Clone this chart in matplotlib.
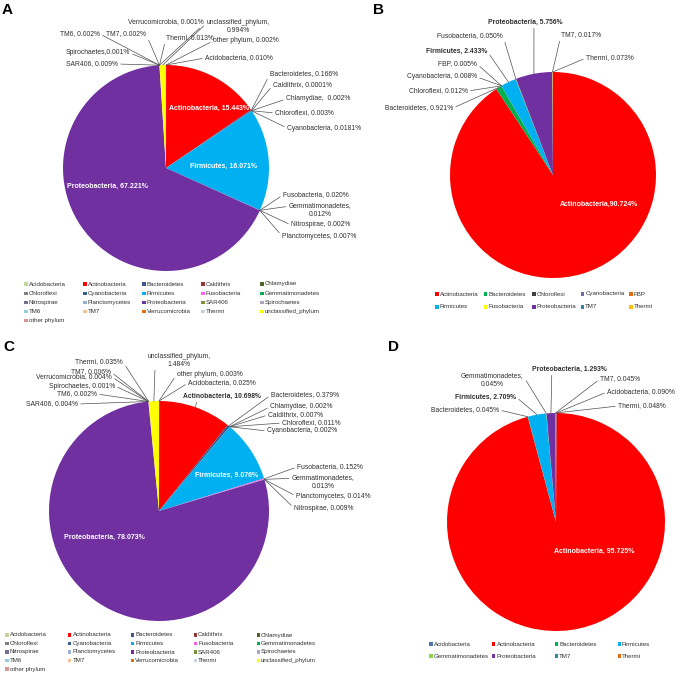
import numpy as np
import matplotlib
matplotlib.use("Agg")
import matplotlib.pyplot as plt
from matplotlib.patches import Rectangle

plt.rcParams['font.family'] = ['Liberation Sans', 'DejaVu Sans']

W, H = 681, 674
TXT = '#303030'

# --- data: panels A and C share the same phylum list ---
phyla_ac = ['Acidobacteria', 'Actinobacteria', 'Bacteroidetes', 'Caldithrix', 'Chlamydiae',
            'Chloroflexi', 'Cyanobacteria', 'Firmicutes', 'Fusobacteria', 'Gemmatimonadetes',
            'Nitrospirae', 'Planctomycetes', 'Proteobacteria', 'SAR406', 'Spirochaetes',
            'TM6', 'TM7', 'Verrucomicrobia', 'Thermi', 'unclassified_phylum', 'other phylum']
colors_ac = ['#c4d79b', '#ff0000', '#3d5a8a', '#953735', '#4f6228',
             '#7f7f7f', '#366092', '#00b0f0', '#ff5ef0', '#00b050',
             '#796b8f', '#95b3d7', '#7030a0', '#77933c', '#b3a2c7',
             '#93cddd', '#fac090', '#e46c0a', '#c5cfe0', '#ffff00', '#d99694']
values_a = [0.010, 15.443, 0.166, 0.0001, 0.002, 0.003, 0.0181, 16.071, 0.020, 0.012,
            0.002, 0.007, 67.221, 0.009, 0.001, 0.002, 0.002, 0.001, 0.013, 0.994, 0.002]
values_c = [0.025, 10.698, 0.379, 0.007, 0.002, 0.011, 0.002, 9.076, 0.152, 0.013,
            0.009, 0.014, 78.073, 0.004, 0.001, 0.002, 0.006, 0.004, 0.035, 1.484, 0.003]

phyla_b = ['Actinobacteria', 'Bacteroidetes', 'Chloroflexi', 'Cyanobacteria', 'FBP',
           'Firmicutes', 'Fusobacteria', 'Proteobacteria', 'TM7', 'Thermi']
colors_b = ['#ff0000', '#00b050', '#404040', '#8064a2', '#e46c0a',
            '#00b0f0', '#ffff00', '#7030a0', '#31859c', '#ffc000']
values_b = [90.724, 0.921, 0.012, 0.008, 0.005, 2.433, 0.050, 5.756, 0.017, 0.073]

phyla_d = ['Acidobacteria', 'Actinobacteria', 'Bacteroidetes', 'Firmicutes',
           'Gemmatimonadetes', 'Proteobacteria', 'TM7', 'Thermi']
colors_d = ['#4f6fa8', '#ff0000', '#00b050', '#00b0f0', '#92d050', '#7030a0', '#31859c', '#e46c0a']
values_d = [0.090, 95.725, 0.045, 2.709, 0.045, 1.293, 0.045, 0.048]


def lab(x, y, ha='left', rel=None, style='plain', sep=', '):
    if rel is None:
        rel = {'left': (0, 0.5), 'right': (1, 0.5), 'center': (0.5, 0)}[ha]
    return (x, y, ha, rel, style, sep)


# --- label layout (pixel positions, y from top) ---
layout_a = {
    'Acidobacteria': lab(205, 58),
    'Actinobacteria': lab(209, 108, 'center', style='inside'),
    'Bacteroidetes': lab(270, 74),
    'Caldithrix': lab(273, 85),
    'Chlamydiae': lab(286, 99, sep=',  '),
    'Chloroflexi': lab(275, 113),
    'Cyanobacteria': lab(287, 128),
    'Firmicutes': lab(223, 166, 'center', style='inside'),
    'Fusobacteria': lab(283, 195),
    'Gemmatimonadetes': lab(320, 210, 'center', rel=(0, 0.75), sep=',\n'),
    'Nitrospirae': lab(291, 225),
    'Planctomycetes': lab(282, 236),
    'Proteobacteria': lab(107, 186, 'center', style='inside'),
    'SAR406': lab(118, 64, 'right'),
    'Spirochaetes': lab(130, 53, 'right', sep=','),
    'TM6': lab(100, 34, 'right'),
    'TM7': lab(146, 34, 'right'),
    'Verrucomicrobia': lab(204, 22, 'right', rel=(1, 0.2)),
    'Thermi': lab(166, 38),
    'unclassified_phylum': lab(238, 27, 'center', rel=(0, 0.75), sep=',\n'),
    'other phylum': lab(213, 41),
}
layout_b = {
    'Actinobacteria': lab(599, 204, 'center', style='inside', sep=','),
    'Bacteroidetes': lab(453, 108, 'right'),
    'Chloroflexi': lab(468, 91, 'right'),
    'Cyanobacteria': lab(477, 77, 'right'),
    'FBP': lab(477, 64, 'right'),
    'Firmicutes': lab(487, 51, 'right', style='bold'),
    'Fusobacteria': lab(503, 36, 'right'),
    'Proteobacteria': lab(525, 22, 'center', rel=(0.62, 0), style='bold'),
    'TM7': lab(561, 35),
    'Thermi': lab(586, 58),
}
layout_c = {
    'Acidobacteria': lab(188, 383),
    'Actinobacteria': lab(222, 396, 'center', rel=(0.18, 0), style='bold'),
    'Bacteroidetes': lab(271, 395),
    'Caldithrix': lab(268, 415),
    'Chlamydiae': lab(270, 407),
    'Chloroflexi': lab(282, 423),
    'Cyanobacteria': lab(267, 431),
    'Firmicutes': lab(227, 475, 'center', style='inside'),
    'Fusobacteria': lab(297, 467),
    'Gemmatimonadetes': lab(323, 482, 'center', rel=(0, 0.75), sep=',\n'),
    'Nitrospirae': lab(294, 508),
    'Planctomycetes': lab(296, 496),
    'Proteobacteria': lab(104, 537, 'center', style='inside'),
    'SAR406': lab(78, 404, 'right'),
    'Spirochaetes': lab(115, 386, 'right'),
    'TM6': lab(97, 394, 'right'),
    'TM7': lab(111, 372, 'right'),
    'Verrucomicrobia': lab(112, 377, 'right'),
    'Thermi': lab(123, 362, 'right'),
    'unclassified_phylum': lab(179, 360, 'center', rel=(0.12, 0), sep=',\n'),
    'other phylum': lab(177, 374),
}
layout_d = {
    'Acidobacteria': lab(607, 392),
    'Actinobacteria': lab(594, 551, 'center', style='inside'),
    'Bacteroidetes': lab(499, 410, 'right'),
    'Firmicutes': lab(516, 397, 'right', style='bold'),
    'Gemmatimonadetes': lab(492, 380, 'center', rel=(1, 0.75), sep=',\n'),
    'Proteobacteria': lab(569, 369, 'center', rel=(0.27, 0), style='bold'),
    'TM7': lab(600, 379),
    'Thermi': lab(618, 406),
}


def fmt(v):
    s = f"{v:.3f}"
    if float(s) != v:
        s = f"{v:.4f}"
    return s


def draw_panel(ax, names, values, colors, center, radius, layout):
    cx, cy = center[0], H - center[1]
    wedges, _ = ax.pie(values, colors=colors, startangle=90, counterclock=False,
                       center=(cx, cy), radius=radius, wedgeprops=dict(linewidth=0))
    for w, name, v in zip(wedges, names, values):
        x, y, ha, rel, style, sep = layout[name]
        text = f"{name}{sep}{fmt(v)}%"
        if style == 'inside':
            ax.text(x, H - y, text, color='white', fontweight='bold', fontsize=5,
                    ha='center', va='center')
            continue
        mid = np.deg2rad((w.theta1 + w.theta2) / 2)
        px, py = cx + radius * np.cos(mid), cy + radius * np.sin(mid)
        ax.annotate(text, xy=(px, py), xytext=(x, H - y), ha=ha, va='center',
                    fontsize=4.9, color=TXT,
                    fontweight='bold' if style == 'bold' else 'normal',
                    arrowprops=dict(arrowstyle='-', color='#505050', lw=0.5,
                                    relpos=rel, shrinkA=0, shrinkB=0))


def draw_legend(ax, names, colors, x0, y0, dx, dy, ncol):
    for i, (n, c) in enumerate(zip(names, colors)):
        r, k = divmod(i, ncol)
        x, y = x0 + k * dx, H - (y0 + r * dy)
        ax.add_patch(Rectangle((x - 1.6, y - 1.6), 3.2, 3.2, color=c, lw=0))
        ax.text(x + 2.8, y, n, fontsize=4.4, va='center', ha='left', color=TXT)


fig = plt.figure(figsize=(W / 100, H / 100), dpi=100)
ax = fig.add_axes([0, 0, 1, 1])

draw_panel(ax, phyla_ac, values_a, colors_ac, (166, 168), 103, layout_a)
draw_panel(ax, phyla_b, values_b, colors_b, (553, 175), 103, layout_b)
draw_panel(ax, phyla_ac, values_c, colors_ac, (159, 511), 110, layout_c)
draw_panel(ax, phyla_d, values_d, colors_d, (556, 522), 109, layout_d)

draw_legend(ax, phyla_ac, colors_ac, 26, 284, 59, 9.2, 5)
draw_legend(ax, phyla_b, colors_b, 437, 294, 48.5, 13, 5)
draw_legend(ax, phyla_ac, colors_ac, 7, 635, 62.8, 8.5, 5)
draw_legend(ax, phyla_d, colors_d, 431, 644, 62.7, 12, 4)

for letter, (x, y) in zip('ABCD', [(2, 3), (373, 3), (3, 340), (388, 340)]):
    ax.text(x, H - y, letter, fontsize=11, fontweight='bold', ha='left', va='top')

ax.set_xlim(0, W)
ax.set_ylim(0, H)
ax.set_aspect('auto')
ax.axis('off')

fig.savefig('out.png', dpi=100)
